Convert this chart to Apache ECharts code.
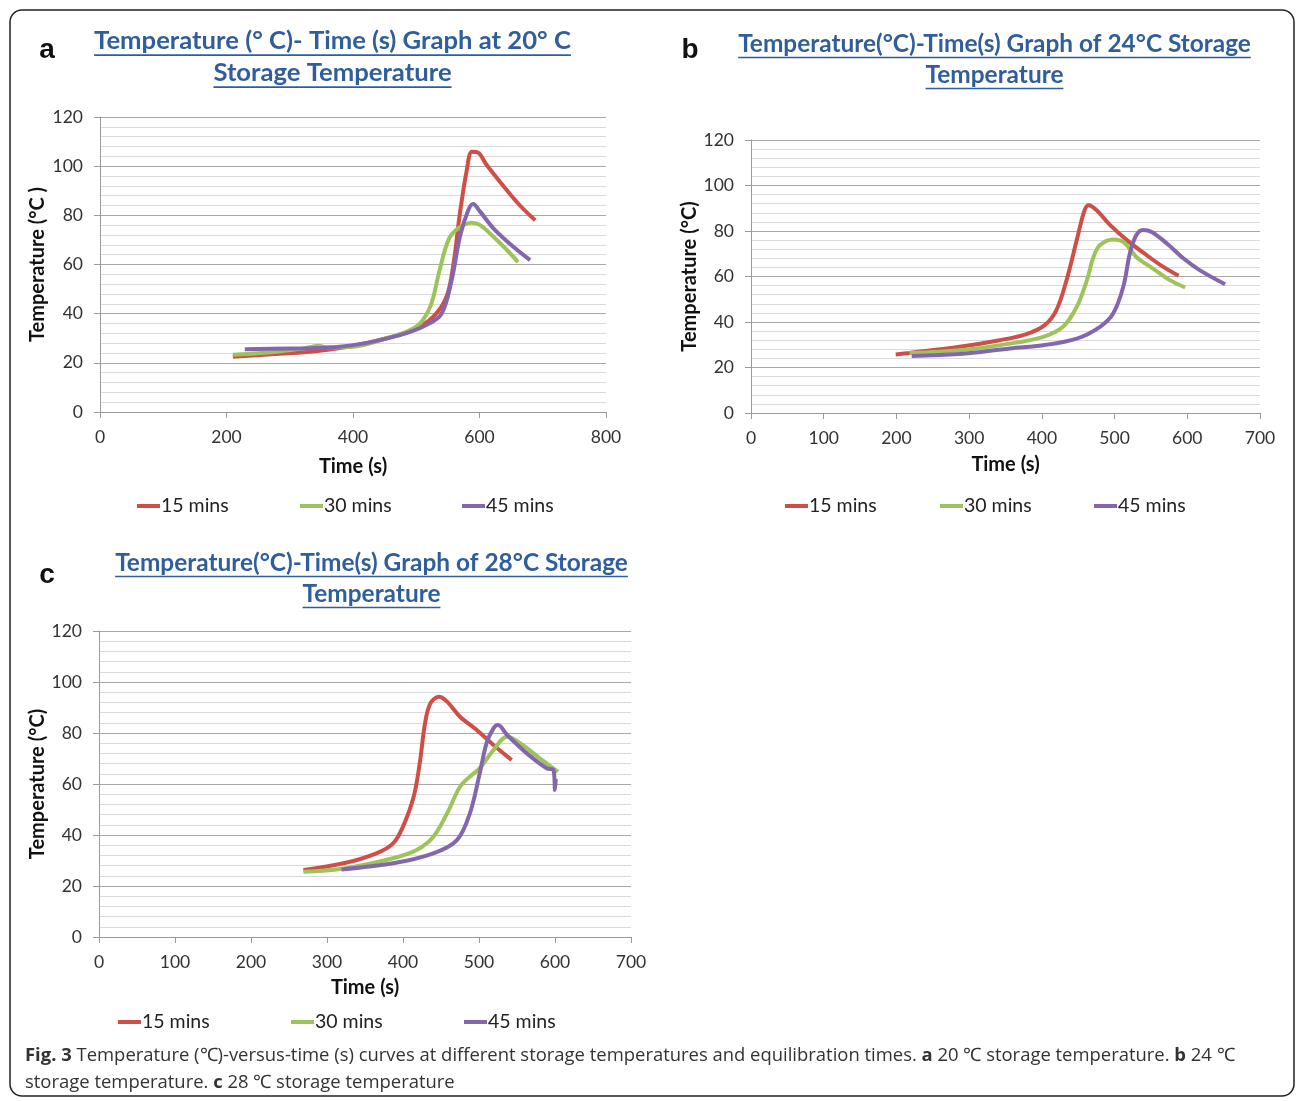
<!DOCTYPE html>
<html><head><meta charset="utf-8">
<script src="https://cdn.jsdelivr.net/npm/echarts@6/dist/echarts.min.js"></script>
<style>html,body{margin:0;padding:0;background:#fff}#c{width:1296px;height:1101px}</style>
</head><body><div id="c"></div>
<script>
// ---------- DATA ----------
const seriesNames = ['15 mins', '30 mins', '45 mins'];
const titleA = ['Temperature (° C)- Time (s) Graph at 20° C', 'Storage Temperature'];
const titleB = ['Temperature(°C)-Time(s) Graph of 24°C Storage', 'Temperature'];
const titleC = ['Temperature(°C)-Time(s) Graph of 28°C Storage', 'Temperature'];
const yNameA = 'Temperature (°C )';
const yNameBC = 'Temperature (°C)';
const xName = 'Time (s)';
const captionLine1 = ['Fig. 3', ' Temperature (℃)-versus-time (s) curves at different storage temperatures and equilibration times. ', 'a', ' 20 ℃ storage temperature. ', 'b', ' 24 ℃'];
const captionLine2 = ['storage temperature. ', 'c', ' 28 ℃ storage temperature'];

// Panel a: 20 °C storage
const a15 = [[210,22.5],[260,23.3],[332,24.5],[400,26.8],[453,30],[495,33.4],[527,38.8],[548,47],[559,60.5],[569,80.8],[580,98.5],[588,105.9],[598,105.5],[610,101],[622,97],[643,90.3],[664,84],[688,78]];
const a30 = [[210,23.3],[280,24.5],[332,26.3],[345,27],[360,26.2],[400,26.5],[453,30],[500,34.7],[522,42.8],[537,57.8],[551,70],[566,74.7],[588,77],[601,76],[622,71.3],[643,66],[661,61]];
const a45 = [[229,25.5],[300,25.8],[332,25.9],[400,27.2],[474,31.3],[516,35.4],[540,40],[556,53.7],[569,71.3],[582,82],[590,84.6],[601,81.5],[622,74.7],[653,67.3],[680,61.8]];
// Panel b: 24 °C storage
const b15 = [[199,25.7],[218,26.4],[287,29.1],[342,32],[379,34.7],[404,38.6],[420,45.2],[434,58.4],[448,76],[458,88.4],[464,91.3],[475,89.2],[494,82.6],[517,76],[544,69.4],[567,64.2],[588,60.3]];
const b30 = [[218,26.4],[287,27.6],[356,30.5],[402,33.5],[429,37.9],[448,46.7],[462,58.4],[471,68.6],[480,73.8],[498,76.3],[512,75.2],[530,68.6],[553,63.5],[576,58.4],[597,55.2]];
const b45 = [[221,25.1],[287,25.9],[356,28.4],[402,29.8],[448,32.7],[480,37.9],[498,43.7],[512,55.5],[521,70.1],[530,78.2],[539,80.4],[551,79.6],[572,74.5],[595,67.9],[617,62.8],[652,56.6]];
// Panel c: 28 °C storage
const c15 = [[269,26.3],[322,28.9],[365,32.8],[387,36.7],[400,43.3],[414,55],[422,68.1],[429,83.8],[436,91.6],[447,94.2],[458,92.3],[475,86.4],[497,81.2],[519,75.3],[543,69.4]];
const c30 = [[269,25.6],[322,26.9],[387,30.9],[418,34.1],[440,39.3],[458,48.5],[475,58.9],[488,62.9],[501,66.2],[519,73.3],[537,78.5],[554,76],[580,70.1],[604,64.8]];
const c45 = [[319,26.5],[387,28.9],[440,32.8],[471,38],[488,48.5],[501,64.2],[510,76],[519,81.8],[525,83.1],[537,79.2],[563,72],[589,66.2],[598,65.5],[600,57.6],[601,62]];

// ---------- STYLE ----------
const colors = ['#CF4F47', '#9DC45A', '#8466AE'];
const titleColor = '#2F5E9B';
const FONT = 'Lato';

const chart = echarts.init(document.getElementById('c'), null, {renderer: 'canvas'});
const mctx = document.createElement('canvas').getContext('2d');
function measure(text, size, weight, family) {
  mctx.font = `${weight} ${size}px "${family}"`;
  return mctx.measureText(text).width;
}

const grids = [
  {left: 100, top: 117, width: 506, height: 295},
  {left: 751, top: 140, width: 509, height: 273},
  {left: 99, top: 631, width: 532, height: 306}
];
const xMax = [800, 700, 700];
const xInt = [200, 100, 100];
const yNames = [yNameA, yNameBC, yNameBC];
const xNameGap = [45, 42, 41];
const yNameGap = [52, 49, 47];
const data = [[a15, a30, a45], [b15, b30, b45], [c15, c30, c45]];

const xAxes = [], yAxes = [], series = [], legends = [];
grids.forEach((g, i) => {
  xAxes.push({
    gridIndex: i, type: 'value', min: 0, max: xMax[i], interval: xInt[i],
    name: xName, nameLocation: 'middle', nameGap: xNameGap[i],
    nameTextStyle: {fontFamily: FONT, fontWeight: 'bold', fontSize: 20, color: '#111'},
    axisLine: {show: true, lineStyle: {color: '#9a9a9a', width: 1}},
    axisTick: {show: true, length: 6, lineStyle: {color: '#9a9a9a'}},
    axisLabel: {fontFamily: FONT, fontSize: 17.5, color: '#333', margin: 16},
    splitLine: {show: false}
  });
  yAxes.push({
    gridIndex: i, type: 'value', min: 0, max: 120, interval: 20,
    name: yNames[i], nameLocation: 'middle', nameGap: yNameGap[i],
    nameTextStyle: {fontFamily: FONT, fontWeight: 'bold', fontSize: 20, color: '#111'},
    axisLine: {show: true, lineStyle: {color: '#9a9a9a', width: 1}},
    axisTick: {show: true, length: 6, lineStyle: {color: '#9a9a9a'}},
    axisLabel: {fontFamily: FONT, fontSize: 17.5, color: '#333', margin: 17},
    splitLine: {show: true, lineStyle: {color: '#a8a8a8', width: 1}},
    minorTick: {show: false, splitNumber: 5},
    minorSplitLine: {show: true, lineStyle: {color: '#dadada', width: 1}}
  });
  data[i].forEach((d, k) => {
    series.push({
      name: seriesNames[k], type: 'line', xAxisIndex: i, yAxisIndex: i,
      data: d, showSymbol: false, smooth: 0.35,
      lineStyle: {color: colors[k], width: 4}, itemStyle: {color: colors[k]},
      z: 3 + k
    });
  });
});

const legendPos = [
  [[137, 496], [300, 496], [462, 496]],
  [[785, 496], [940, 496], [1094, 496]],
  [[118, 1012], [291, 1012], [464, 1012]]
];
legendPos.forEach(row => row.forEach((p, k) => {
  legends.push({
    left: p[0], top: p[1], padding: 0,
    data: [{name: seriesNames[k], icon: 'rect', itemStyle: {color: colors[k]}}],
    itemWidth: 23, itemHeight: 4, itemGap: 0,
    textStyle: {fontFamily: FONT, fontSize: 19.5, color: '#222', padding: [0, 0, 0, -4]},
    selectedMode: false
  });
}));

// titles with underline
const graphics = [];
graphics.push({type: 'rect', shape: {x: 10, y: 10, width: 1284, height: 1086, r: 12},
  style: {fill: 'none', stroke: '#222', lineWidth: 1.5}, silent: true});
function addTitle(lines, cx, y1, y2, targetW) {
  const size = 22 * targetW / measure(lines[0], 22, 'bold', FONT);
  [[lines[0], y1], [lines[1], y2]].forEach(([t, y]) => {
    const w = measure(t, size, 'bold', FONT);
    graphics.push({type: 'text', x: cx, y: y, silent: true,
      style: {text: t, fontFamily: FONT, fontWeight: 'bold', fontSize: size, fill: titleColor,
        textAlign: 'center', textVerticalAlign: 'middle'}});
    graphics.push({type: 'rect', silent: true, shape: {x: cx - w / 2, y: y + size * 0.52, width: w, height: 1.6},
      style: {fill: titleColor}});
  });
}
addTitle(titleA, 332.5, 41, 73, 477);
addTitle(titleB, 994.5, 44, 75, 513);
addTitle(titleC, 371.5, 563, 594, 513);

[['a', 47, 50], ['b', 690, 50], ['c', 47, 575]].forEach(([t, x, y]) => {
  graphics.push({type: 'text', x: x, y: y, silent: true,
    style: {text: t, fontFamily: 'Liberation Sans', fontWeight: 'bold', fontSize: 28, fill: '#111',
      textAlign: 'center', textVerticalAlign: 'middle'}});
});

// caption
const capFont = 'Open Sans';
let w1 = 0;
captionLine1.forEach((s, i) => { w1 += measure(s, 18, i % 2 === 0 ? 'bold' : 'normal', capFont); });
const capSize = 18 * 1212 / w1;
function richText(parts) {
  return parts.map((s, i) => i % 2 === 0 ? (s.length ? '{b|' + s + '}' : '') : '{n|' + s + '}').join('');
}
const capRich = {b: {fontFamily: capFont, fontWeight: 'bold', fontSize: capSize, fill: '#333', color: '#333'},
                 n: {fontFamily: capFont, fontWeight: 'normal', fontSize: capSize, fill: '#333', color: '#333'}};
graphics.push({type: 'text', x: 25, y: 1056, silent: true,
  style: {text: richText(captionLine1), rich: capRich, textVerticalAlign: 'middle', textAlign: 'left', fill: '#333'}});
graphics.push({type: 'text', x: 25, y: 1083, silent: true,
  style: {text: richText(['', captionLine2[0], captionLine2[1], captionLine2[2]]), rich: capRich, textVerticalAlign: 'middle', textAlign: 'left', fill: '#333'}});

chart.setOption({
  animation: false,
  backgroundColor: '#fff',
  grid: grids,
  xAxis: xAxes,
  yAxis: yAxes,
  legend: legends,
  series: series,
  graphic: graphics
});
</script></body></html>
